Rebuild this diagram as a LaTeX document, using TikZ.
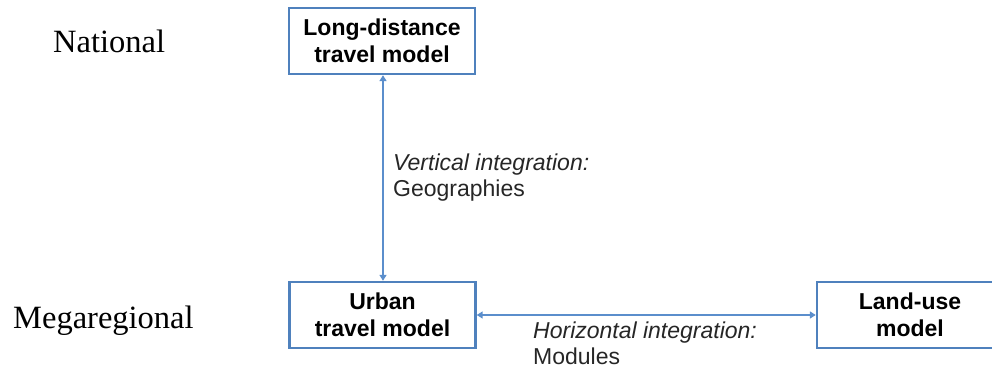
\documentclass[tikz,border=0pt]{standalone}
\usepackage{fontspec}
\setmainfont{Liberation Sans}
\newfontfamily\serifface{Liberation Serif}
\usetikzlibrary{arrows.meta}
\definecolor{boxblue}{RGB}{79,129,189}
\definecolor{arrowblue}{RGB}{91,142,204}
\definecolor{labelgray}{RGB}{38,38,38}
\tikzset{
  modelbox/.style={draw=boxblue, line width=2.4pt, fill=white, minimum width=186pt, minimum height=66pt,
    align=center, inner sep=0pt, font=\bfseries\fontsize{23}{27}\selectfont},
  levellabel/.style={anchor=base west, inner sep=0pt, font=\serifface\fontsize{32.5}{36}\selectfont},
  intlabel/.style={anchor=north west, inner sep=0pt, align=left, text=labelgray, font=\fontsize{23}{26}\selectfont},
  link/.style={draw=arrowblue, line width=1.6pt, {Triangle[width=7pt,length=6pt]}-{Triangle[width=7pt,length=6pt]}}
}
\begin{document}
\begin{tikzpicture}[x=1pt,y=-1pt]
\useasboundingbox (0,0) rectangle (992,371);
\clip (0,0) rectangle (992,371);
\node[modelbox] (ld) at (382,41) {Long-distance\\travel model};
\node[modelbox] (urban) at (382.5,315) {Urban\\travel model};
\node[modelbox] (land) at (910,315) {Land-use\\model};
\node[levellabel] (national) at (53,53) {National};
\node[levellabel] (mega) at (13,328) {Megaregional};
\draw[link] (ld.south -| 383,0) -- (urban.north -| 383,0);
\draw[link] (urban.east) -- (land.west);
\node[intlabel] (vert) at (393,154) {\textit{Vertical integration:}\\Geographies};
\node[intlabel] (horiz) at (533,322) {\textit{Horizontal integration:}\\Modules};
\end{tikzpicture}
\end{document}
